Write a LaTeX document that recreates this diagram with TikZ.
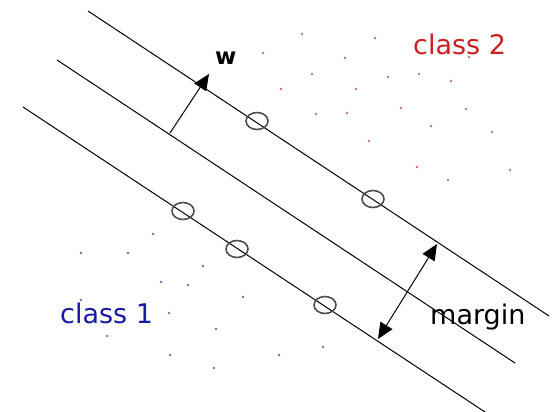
\documentclass[tikz,border=0pt]{standalone}
\usepackage{fontspec}
\setmainfont{DejaVu Sans}
\usetikzlibrary{arrows.meta,shapes.geometric}
\definecolor{redtext}{RGB}{205,32,32}
\definecolor{bluetext}{RGB}{25,25,165}
\definecolor{reddot}{RGB}{195,115,125}
\definecolor{bluedot}{RGB}{110,110,175}
\tikzset{
  plane/.style={line width=1pt},
  supvec/.style={draw=black!70,line width=1.6pt,ellipse,minimum width=22pt,minimum height=17pt,inner sep=0pt},
  tip/.style={Triangle[length=16pt,width=14pt]},
  normal/.style={line width=1pt,-{Triangle[length=16pt,width=14pt]}},
  lbl/.style={anchor=base west,inner sep=0pt,font=\fontsize{27}{27}\selectfont}
}
\begin{document}
\begin{tikzpicture}[x=1pt,y=-1pt]
\useasboundingbox (0,0) rectangle (554,412);
% the three parallel planes
\draw[plane] (88,11) -- (549,316);
\draw[plane] (57,60) -- (515,363);
\draw[plane] (23,107) -- (485,412);
% data points
\foreach \px/\py in {302/34,375/38,263/53,345/58,469/57,312/74,388/77,419/74,451/81,281/89,356/89,
  316/114,347/113,401/108,466/109,431/126,492/132,369/141,417/167,448/180,510/170}
  \fill[reddot] (\px,\py) circle (1.3);
\foreach \px/\py in {153/234,81/253,128/253,203/266,161/282,188/285,243/297,81/300,169/313,
  107/336,216/329,170/355,214/368,279/355,323/347}
  \fill[bluedot] (\px,\py) circle (1.3);
% support vectors
\node[supvec] (sv1) at (257,121) {};
\node[supvec] (sv2) at (373,199) {};
\node[supvec] (sv3) at (183,211) {};
\node[supvec] (sv4) at (237,249) {};
\node[supvec] (sv5) at (325,305) {};
% normal vector and margin
\coordinate (wfoot) at (170,133);
\coordinate (whead) at (209,74);
\draw[normal] (wfoot) -- (whead);
\coordinate (mtop) at (437,244);
\coordinate (mbot) at (378,339);
\draw[normal,{Triangle[length=16pt,width=14pt]}-{Triangle[length=16pt,width=14pt]}] (mbot) -- (mtop);
\node[lbl,font=\fontsize{23}{23}\selectfont\bfseries] (w) at (215,64) {w};
\node[lbl,text=redtext] (c2) at (413,55) {class 2};
\node[lbl,text=bluetext] (c1) at (60,323) {class 1};
\node[lbl] (marg) at (430,324) {margin};
\end{tikzpicture}
\end{document}
